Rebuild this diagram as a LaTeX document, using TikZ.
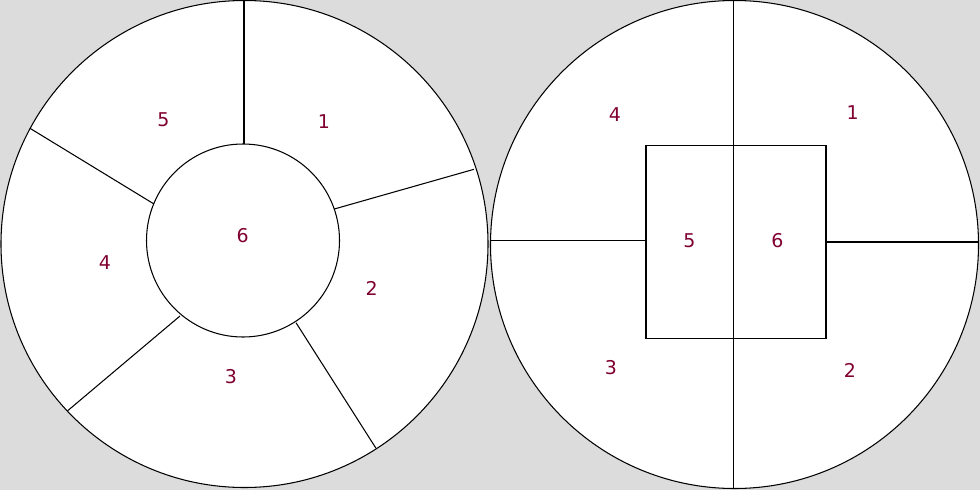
\documentclass[tikz,border=0pt]{standalone}
\usepackage{fontspec}
\setmainfont{DejaVu Sans}
\definecolor{bggrey}{RGB}{220,220,220}
\definecolor{zonered}{RGB}{128,0,48}
\tikzset{
  zone/.style={text=zonered,font=\fontsize{10.8}{13}\selectfont,inner sep=0pt},
  wall/.style={draw=black,line width=0.6pt}
}
\begin{document}
\begin{tikzpicture}[x=0.02cm,y=-0.02cm]

      \fill[bggrey] (0,0) rectangle (980,490);
      \useasboundingbox (0,0) rectangle (980,490);

      % left disc
      \coordinate (lc) at (244.5,244);
      \coordinate (ic) at (243,240.5);
      \filldraw[fill=white,wall] (lc) circle (243.5);
      \draw[wall] (ic) circle (96.5);

      \coordinate (i1) at (244,144);
      \coordinate (o1) at (244,1);
      \coordinate (i2) at (334.3,209);
      \coordinate (o2) at (474,169.3);
      \coordinate (i3) at (296,322.7);
      \coordinate (o3) at (376,448.3);
      \coordinate (i4) at (180,316);
      \coordinate (o4) at (67.7,410.7);
      \coordinate (i5) at (154,204);
      \coordinate (o5) at (30,128.3);
      \foreach \k in {1,...,5}
        \draw[wall] (i\k) -- (o\k);

      % right disc
      \coordinate (rc) at (734.5,244.5);
      \filldraw[fill=white,wall] (rc) circle (244);
      \coordinate (top) at (733.7,0.5);
      \coordinate (bot) at (733.7,488.5);
      \coordinate (west) at (490.5,240.7);
      \coordinate (east) at (978.5,242);
      \coordinate (sqa) at (646,145.7);
      \coordinate (sqb) at (826,338.7);
      \draw[wall,line width=0.8pt] (sqa) rectangle (sqb);
      \draw[wall] (top) -- (bot);
      \draw[wall] (west) -- (sqa |- west);
      \draw[wall] (sqb |- east) -- (east);

      \begin{scope}[every node/.style={zone}]
        \node (l1) at (324,122)   {1};
        \node (l2) at (371.7,288.3) {2};
        \node (l3) at (231,376.7) {3};
        \node (l4) at (105,262.7) {4};
        \node (l5) at (163.3,119.3) {5};
        \node (l6) at (242.7,236) {6};
        \node (r1) at (852.7,112.7) {1};
        \node (r2) at (850,370)   {2};
        \node (r3) at (611,367.7) {3};
        \node (r4) at (615,114.3) {4};
        \node (r5) at (689.3,241) {5};
        \node (r6) at (777.3,240.7) {6};
      \end{scope}

    \end{tikzpicture}
\end{document}
